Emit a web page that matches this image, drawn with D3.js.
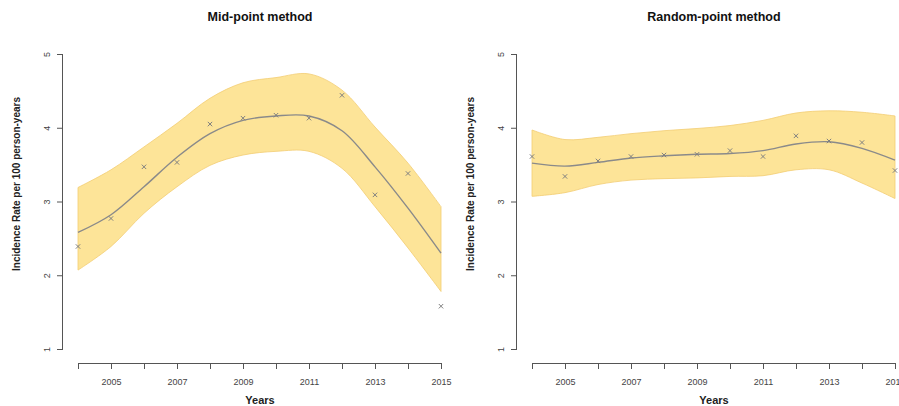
<!DOCTYPE html>
<html><head><meta charset="utf-8">
<script src="https://cdn.jsdelivr.net/npm/d3@7"></script>
<style>body{margin:0;background:#fff;overflow:hidden}svg{display:block}text{font-family:"Liberation Sans",Arial,sans-serif}</style>
</head><body>
<svg id="c" width="899" height="406"></svg>
<script>
const years = [2004,2005,2006,2007,2008,2009,2010,2011,2012,2013,2014,2015];
const xTickLabels = [2005,2007,2009,2011,2013,2015];
const yTicks = [1,2,3,4,5];

const midObs   = [2.39,2.77,3.47,3.53,4.05,4.13,4.17,4.13,4.44,3.09,3.38,1.58];
const midFit   = [2.58,2.82,3.20,3.60,3.92,4.10,4.16,4.16,3.96,3.47,2.91,2.30];
const midUpper = [3.19,3.43,3.74,4.06,4.40,4.61,4.68,4.73,4.51,4.01,3.52,2.93];
const midLower = [2.07,2.39,2.84,3.20,3.49,3.63,3.68,3.68,3.45,2.93,2.37,1.78];

const rndObs   = [3.61,3.34,3.55,3.61,3.63,3.64,3.69,3.61,3.89,3.82,3.80,3.42];
const rndFit   = [3.52,3.48,3.53,3.59,3.62,3.64,3.65,3.69,3.78,3.81,3.72,3.56];
const rndUpper = [3.97,3.84,3.87,3.92,3.96,3.99,4.03,4.10,4.20,4.23,4.21,4.16];
const rndLower = [3.07,3.12,3.23,3.29,3.31,3.32,3.34,3.35,3.43,3.43,3.25,3.04];

const svg = d3.select("#c");

function panel(ox, title, obs, fit, up, lo){
  const g = svg.append("g").attr("transform", `translate(${ox},0)`);
  const x = d3.scaleLinear().domain([2004,2015]).range([78,441]);
  const y = d3.scaleLinear().domain([1,5]).range([349,54]);
  const d = years.map((yr,i)=>({yr,o:obs[i],f:fit[i],u:up[i],l:lo[i]}));
  const curve = d3.curveCatmullRom.alpha(0.5);
  g.append("path").datum(d)
    .attr("d", d3.area().x(p=>x(p.yr)).y0(p=>y(p.l)).y1(p=>y(p.u)).curve(curve))
    .attr("fill","#fde498").attr("stroke","#f3cd72").attr("stroke-width",0.8);
  g.append("path").datum(d)
    .attr("d", d3.line().x(p=>x(p.yr)).y(p=>y(p.f)).curve(curve))
    .attr("fill","none").attr("stroke","#8a8a8a").attr("stroke-width",1.4);
  const s = 2.2;
  g.selectAll("path.pt").data(d).join("path").attr("class","pt")
    .attr("d", p=>{const cx=x(p.yr), cy=y(p.o);return `M${cx-s},${cy-s}L${cx+s},${cy+s}M${cx-s},${cy+s}L${cx+s},${cy-s}`;})
    .attr("stroke","#808080").attr("stroke-width",1);

  // y axis
  const ya = g.append("g").attr("transform","translate(63,0)")
    .call(d3.axisLeft(y).tickValues(yTicks).tickSize(6).tickPadding(10).tickFormat(d3.format("d")));
  ya.select(".domain").attr("stroke","#555").attr("d",`M-0.5,${y(1)}V${y(5)}`);
  ya.selectAll(".tick line").attr("stroke","#555");
  ya.selectAll(".tick text").attr("fill","#444").attr("font-size",9)
    .attr("transform","rotate(-90)").attr("x",0).attr("y",-16).attr("dy","0.32em").attr("text-anchor","middle");

  // x axis
  const xa = g.append("g").attr("transform","translate(0,363)")
    .call(d3.axisBottom(x).tickValues(years).tickSize(6).tickPadding(10)
      .tickFormat(v=>xTickLabels.includes(v)?String(v):""));
  xa.select(".domain").attr("stroke","#555").attr("d",`M${x(2004)},0.5H${x(2015)}`);
  xa.selectAll(".tick line").attr("stroke","#555");
  xa.selectAll(".tick text").attr("fill","#444").attr("font-size",9);

  g.append("text").attr("x",260).attr("y",21).attr("text-anchor","middle")
    .attr("font-weight","bold").attr("font-size",12.5).attr("fill","#111").text(title);
  g.append("text").attr("x",260).attr("y",404).attr("text-anchor","middle")
    .attr("font-weight","bold").attr("font-size",11).attr("fill","#222").text("Years");
  g.append("text").attr("transform","translate(20,184) rotate(-90)").attr("text-anchor","middle")
    .attr("font-weight","bold").attr("font-size",10).attr("fill","#222")
    .text("Incidence Rate per 100 person-years");
}
panel(0, "Mid-point method", midObs, midFit, midUpper, midLower);
panel(454, "Random-point method", rndObs, rndFit, rndUpper, rndLower);
</script>
</body></html>
